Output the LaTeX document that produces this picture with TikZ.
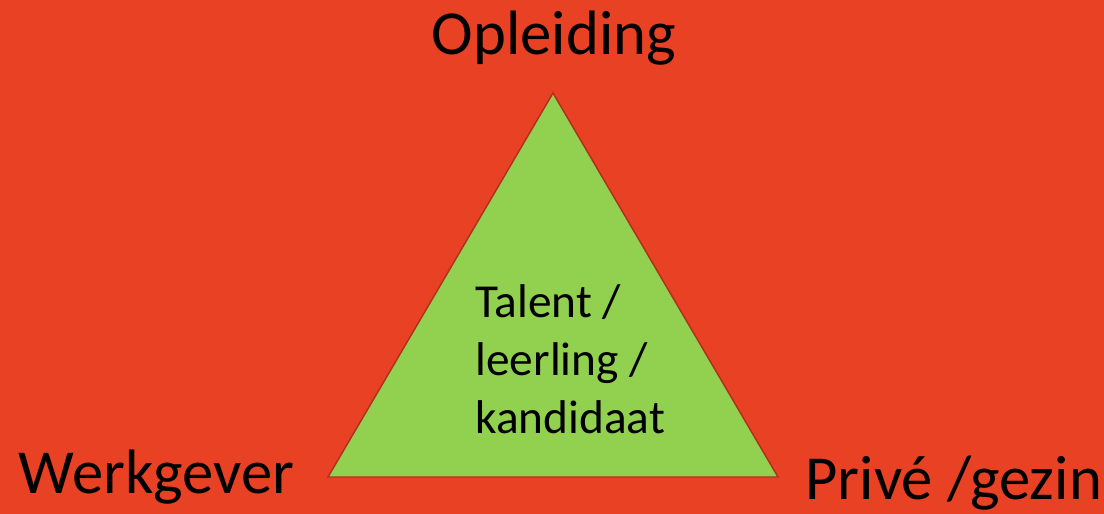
\documentclass[tikz,border=0pt]{standalone}
\usepackage{fontspec}
\setmainfont{Carlito}
\definecolor{bgred}{RGB}{232,65,35}
\definecolor{trigreen}{RGB}{146,208,80}
\definecolor{triedge}{RGB}{176,48,30}
\tikzset{every picture/.style={line width=0.75pt}}
\tikzset{
  cornerlbl/.style={inner sep=0pt, font=\fontsize{47}{56}\selectfont},
  midlbl/.style={inner sep=0pt, align=left, font=\fontsize{35.5}{43.2}\selectfont},
}

\begin{document}
\begin{tikzpicture}[x=0.75pt,y=0.75pt,yscale=-1,xscale=1]

\fill  [bgred]  (0,0) rectangle (1104,514) ;
\draw  [fill=trigreen, draw=triedge, line width=1.1]  (553,93) -- (778,477) -- (328,477) -- cycle ;

\draw (554,55) node (opl) [anchor=base] [cornerlbl]    {Opleiding};
\draw (18,493) node (werk) [anchor=base west] [cornerlbl]    {Werkgever};
\draw (805,499) node (prive) [anchor=base west] [cornerlbl]    {Privé /gezin};
\draw (475,433) node (talent) [anchor=base west] [midlbl]    {Talent /\\leerling /\\kandidaat};

\end{tikzpicture}
\end{document}
